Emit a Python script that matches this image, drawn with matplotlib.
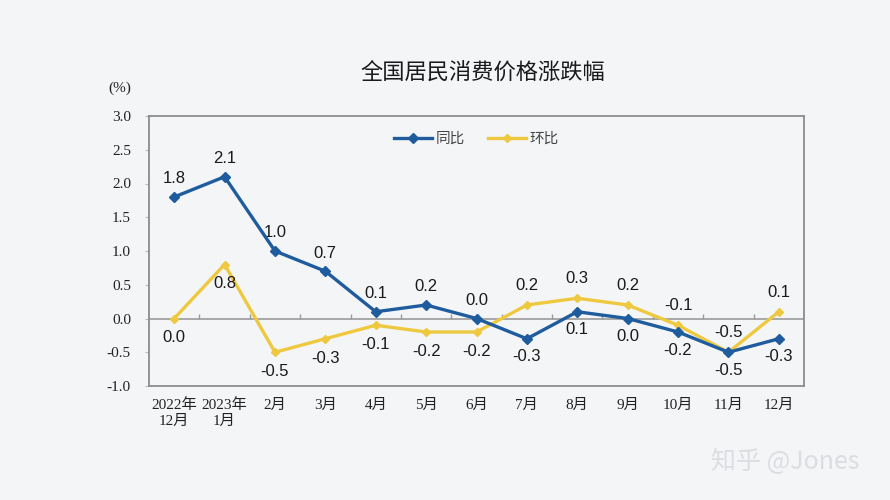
import matplotlib
matplotlib.use("Agg")
import matplotlib.pyplot as plt
import numpy as np

categories = ["2022年\n12月", "2023年\n1月", "2月", "3月", "4月", "5月", "6月",
              "7月", "8月", "9月", "10月", "11月", "12月"]
yoy = [1.8, 2.1, 1.0, 0.7, 0.1, 0.2, 0.0, -0.3, 0.1, 0.0, -0.2, -0.5, -0.3]
mom = [0.0, 0.8, -0.5, -0.3, -0.1, -0.2, -0.2, 0.2, 0.3, 0.2, -0.1, -0.5, 0.1]
# label placement: 1 = above, -1 = below
yoy_pos = [1, 1, 1, 1, 1, 1, 1, -1, -1, -1, -1, -1, -1]
mom_pos = [-1, -1, -1, -1, -1, -1, -1, 1, 1, 1, 1, 1, 1]
yticks = [-1.0, -0.5, 0.0, 0.5, 1.0, 1.5, 2.0, 2.5, 3.0]

plt.rcParams['font.family'] = ['Liberation Sans', 'Noto Sans CJK SC', 'DejaVu Sans']

BG = '#f4f5f7'
BLUE = '#1f5c9e'
YELLOW = '#eec93f'

fig = plt.figure(figsize=(8.9, 5.0), dpi=100, facecolor=BG)
ax = fig.add_axes([149/890, 1-386/500, (804-149)/890, (386-116)/500])
ax.set_facecolor(BG)

x = np.arange(len(categories))
ax.plot(x, mom, color=YELLOW, lw=2.4, marker='D', ms=4, mec=YELLOW, mfc=YELLOW, zorder=3, label='环比')
ax.plot(x, yoy, color=BLUE, lw=2.4, marker='D', ms=5.5, mec=BLUE, mfc=BLUE, zorder=4, label='同比')

ax.set_xlim(-0.5, len(categories) - 0.5)
ax.set_ylim(-1.0, 3.0)
ax.set_yticks(yticks)
ax.set_yticklabels([f"{v:.1f}" for v in yticks], family=['Liberation Serif', 'Noto Sans CJK SC'],
                   fontsize=11, color='#222222')
ax.set_xticks(x)
ax.set_xticklabels(categories, family=['Liberation Serif', 'Noto Sans CJK SC'], fontsize=11,
                   color='#222222', linespacing=1.25)
ax.tick_params(axis='x', length=0, pad=9)
ax.tick_params(axis='y', length=3, direction='out', color='#bbbbbb', pad=10)

for s in ax.spines.values():
    s.set_color('#8c8c8c')
    s.set_linewidth(1.3)

ax.axhline(0, color='#9a9a9a', lw=1.2, zorder=1)
ax.vlines(np.arange(0.5, len(categories) - 1), 0, 0.07, color='#9a9a9a', lw=1.0, zorder=1)

for i in range(len(categories)):
    ax.annotate(f"{yoy[i]:.1f}", (x[i], yoy[i]), xytext=(0, 13 * yoy_pos[i]), textcoords='offset points',
                ha='center', va='center', fontsize=12, color='#1a1a1a', family='Liberation Sans')
    ax.annotate(f"{mom[i]:.1f}", (x[i], mom[i]), xytext=(0, 14 * mom_pos[i]), textcoords='offset points',
                ha='center', va='center', fontsize=12, color='#1a1a1a', family='Liberation Sans')

h, l = ax.get_legend_handles_labels()
leg = ax.legend([h[1], h[0]], [l[1], l[0]], loc='upper center', bbox_to_anchor=(0.5, 0.99), ncol=2,
                frameon=False, fontsize=10.5, handlelength=2.6, columnspacing=1.6, handletextpad=0.25)
for t in leg.get_texts():
    t.set_color('#444444')
    t.set_family(['Noto Sans CJK SC'])

fig.text(483/890, 1-73/500, "全国居民消费价格涨跌幅", ha='center', va='center', fontsize=16,
         family=['Noto Sans CJK SC'], weight='medium', color='#1a1a1a')
fig.text(120/890, 1-88/500, "(%)", ha='center', va='center', fontsize=11,
         family=['Liberation Serif'], color='#222222')
fig.text(785/890, 1-462/500, "知乎 @Jones", ha='center', va='center', fontsize=18,
         family=['Noto Sans CJK SC', 'DejaVu Sans'], color='#dcdde0')

fig.savefig("out.png", dpi=100, facecolor=BG)
